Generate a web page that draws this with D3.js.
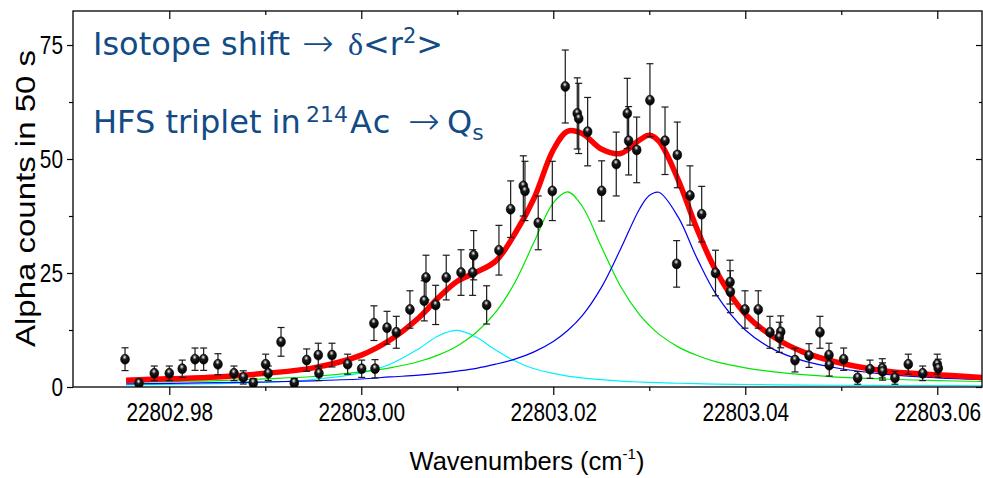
<!DOCTYPE html>
<html>
<head>
<meta charset="utf-8">
<script src="https://cdn.jsdelivr.net/npm/d3@7"></script>
<style>
  body { margin: 0; background: #fff; }
  svg { display: block; }
</style>
</head>
<body>
<svg id="chart"></svg>
<script>
var w = 983;
var h = 478;

// measured points (wavenumber, counts, 1 sigma)
var waveX = [22802.97539, 22802.97684, 22802.97844, 22802.98000, 22802.98135, 22802.98268, 22802.98358,
  22802.98507, 22802.98674, 22802.98771, 22802.98875, 22802.99004, 22802.99031, 22802.99164, 22802.99302,
  22802.99431, 22802.99552, 22802.99559, 22802.99695, 22802.99858, 22803.00004, 22803.00143, 22803.00132,
  22803.00268, 22803.00365, 22803.00507, 22803.00656, 22803.00674, 22803.00775, 22803.00885, 22803.01039,
  22803.01171, 22803.01160, 22803.01306, 22803.01434, 22803.01556, 22803.01688, 22803.01705, 22803.01843,
  22803.01990, 22803.02125, 22803.02250, 22803.02265, 22803.02358, 22803.02504, 22803.02656, 22803.02771,
  22803.02785, 22803.02869, 22803.03007, 22803.03164, 22803.03285, 22803.03292, 22803.03424, 22803.03546,
  22803.03690, 22803.03841, 22803.03845, 22803.03997, 22803.04135, 22803.04257, 22803.04369, 22803.04354,
  22803.04518, 22803.04664, 22803.04778, 22803.04872, 22803.04875, 22803.05025, 22803.05171, 22803.05299,
  22803.05427, 22803.05430, 22803.05559, 22803.05698, 22803.05848, 22803.06000, 22803.06010];
var counts = [6.1, 0.8, 3.0, 3.0, 4.0, 6.1, 6.1,
  5.0, 3.0, 2.1, 0.9, 5.0, 3.0, 9.9, 0.9,
  5.9, 7.0, 3.0, 7.0, 5.0, 4.0, 4.0, 14.0,
  13.0, 12.0, 17.0, 18.9, 24.0, 18.0, 24.0, 25.1,
  28.9, 25.1, 18.0, 30.0, 39.0, 44.1, 43.0, 36.0,
  43.0, 65.9, 60.0, 58.9, 56.0, 43.0, 48.9, 60.0,
  54.0, 52.0, 62.9, 54.0, 27.0, 50.9, 42.0, 37.9,
  25.0, 23.0, 20.9, 17.0, 17.0, 12.0, 12.1, 10.9,
  5.9, 6.9, 12.0, 7.0, 4.8, 6.1, 2.0, 3.9,
  4.1, 3.4, 2.0, 5.0, 3.0, 5.0, 4.1];
var errors = [2.5, 0.9, 1.6, 1.6, 1.9, 2.45, 2.45,
  2.3, 1.6, 1.45, 0.95, 2.2, 1.6, 3.15, 0.95,
  2.45, 2.6, 1.6, 2.6, 2.2, 1.9, 2.0, 3.8,
  3.6, 3.5, 4.1, 4.4, 4.9, 4.3, 4.9, 5.0,
  5.4, 5.0, 4.2, 5.45, 6.2, 6.6, 6.5, 5.9,
  6.5, 8.0, 7.8, 7.7, 7.5, 6.6, 7.0, 7.7,
  7.5, 7.2, 8.0, 7.4, 5.1, 7.2, 6.5, 6.1,
  5.0, 4.8, 4.6, 4.1, 4.1, 3.5, 3.5, 3.3,
  2.6, 2.6, 3.5, 2.6, 2.4, 2.45, 1.4, 2.0,
  2.1, 1.9, 1.4, 2.2, 1.6, 2.2, 2.0];

// fitted curves at these wavenumbers
var fitX = [22802.9755, 22802.980, 22802.985, 22802.990, 22802.995, 22803.000, 22803.003, 22803.006,
  22803.008, 22803.010, 22803.012, 22803.014, 22803.016, 22803.018, 22803.020, 22803.0215,
  22803.023, 22803.025, 22803.027, 22803.029, 22803.030, 22803.031, 22803.033, 22803.035,
  22803.037, 22803.040, 22803.043, 22803.046, 22803.050, 22803.055, 22803.060, 22803.0647];
var fitTotal = [1.5, 1.8, 2.2, 3.0, 4.2, 7.0, 10.3, 15.2,
  19.5, 23.2, 25.2, 27.6, 33.6, 41.4, 52.0, 56.1,
  55.6, 52.2, 51.2, 54.2, 55.2, 53.9, 45.5, 34.5,
  25.3, 16.0, 10.9, 7.7, 5.2, 3.4, 2.7, 2.1];
var fitPeak1 = [0.46, 0.56, 0.73, 1.04, 1.65, 3.1, 5.0, 8.4,
  11.2, 12.4, 10.9, 8.1, 5.7, 4.0, 3.0, 2.4,
  2.0, 1.6, 1.3, 1.1, 1.0, 0.94, 0.82, 0.72,
  0.64, 0.55, 0.48, 0.43, 0.38, 0.33, 0.30, 0.27];
var fitPeak2 = [1.0, 1.2, 1.4, 1.8, 2.3, 3.3, 4.2, 5.6,
  7.0, 9.0, 12.0, 16.4, 22.9, 31.8, 40.4, 42.8,
  39.7, 30.8, 22.1, 15.8, 13.5, 11.6, 8.8, 6.9,
  5.5, 4.2, 3.3, 2.7, 2.1, 1.7, 1.4, 1.2];
var fitPeak3 = [0.7, 0.8, 0.95, 1.1, 1.35, 1.75, 2.2, 2.6,
  3.0, 3.5, 4.1, 5.0, 6.1, 7.7, 10.0, 12.4,
  15.6, 21.8, 30.2, 39.1, 42.0, 42.7, 37.3, 28.1,
  20.2, 12.5, 8.2, 5.8, 4.0, 2.7, 2.0, 1.6];

var xMajor = [22802.98, 22803.00, 22803.02, 22803.04, 22803.06];
var xMinor = [22802.99, 22803.01, 22803.03, 22803.05];
var yMajor = [0, 25, 50, 75];
var yMinor = [12.5, 37.5, 62.5];

var pLeft = 73, pRight = 982, pTop = 11, pBottom = 387;
var textBlue = "#124b86";
var axisFont = "'Liberation Sans', Arial, sans-serif";
var noteFont = "'DejaVu Sans', Verdana, sans-serif";

var svg = d3.select("#chart")
  .attr("width", w)
  .attr("height", h)
  .style("background", "#fff");

var x = d3.scaleLinear()
  .domain([22802.96997, 22803.06466])
  .range([pLeft, pRight]);

var y = d3.scaleLinear()
  .domain([0, 82.46])
  .range([pBottom, pTop]);

var defs = svg.append("defs");
defs.append("clipPath").attr("id", "plotclip")
  .append("rect")
  .attr("x", pLeft).attr("y", pTop)
  .attr("width", pRight - pLeft).attr("height", pBottom - pTop);

var grad = defs.append("radialGradient").attr("id", "ball")
  .attr("cx", "45%").attr("cy", "30%").attr("r", "65%");
grad.append("stop").attr("offset", "0%").attr("stop-color", "#ffffff");
grad.append("stop").attr("offset", "12%").attr("stop-color", "#b0b0b0");
grad.append("stop").attr("offset", "38%").attr("stop-color", "#1c1c1c");
grad.append("stop").attr("offset", "100%").attr("stop-color", "#000000");

// axes
function styleAxis(g) {
  g.select(".domain").remove();
  g.selectAll(".tick line").attr("stroke", "#000").attr("stroke-width", 1.2);
  g.attr("font-family", axisFont).attr("font-size", 26);
}

svg.append("g")
  .attr("transform", "translate(0," + pBottom + ")")
  .call(d3.axisBottom(x).tickValues(xMajor).tickSize(8).tickFormat(function(d) { return d.toFixed(2); }))
  .call(styleAxis)
  .selectAll("text")
  .attr("y", 34.5)
  .attr("dy", 0)
  .attr("fill", "#000")
  .attr("transform", "scale(0.8,1)");

svg.append("g")
  .attr("transform", "translate(0," + pBottom + ")")
  .call(d3.axisBottom(x).tickValues(xMinor).tickSize(4).tickFormat(""))
  .call(styleAxis);

svg.append("g")
  .attr("transform", "translate(0," + pTop + ")")
  .call(d3.axisTop(x).tickValues(xMajor).tickSize(-8).tickFormat(""))
  .call(styleAxis);

svg.append("g")
  .attr("transform", "translate(0," + pTop + ")")
  .call(d3.axisTop(x).tickValues(xMinor).tickSize(-4).tickFormat(""))
  .call(styleAxis);

svg.append("g")
  .attr("transform", "translate(" + pLeft + ",0)")
  .call(d3.axisLeft(y).tickValues(yMajor).tickSize(6).tickFormat(d3.format("d")))
  .call(styleAxis)
  .selectAll("text")
  .attr("x", -12.5)
  .attr("fill", "#000")
  .attr("transform", "scale(0.8,1)");

svg.append("g")
  .attr("transform", "translate(" + pLeft + ",0)")
  .call(d3.axisLeft(y).tickValues(yMinor).tickSize(4).tickFormat(""))
  .call(styleAxis);

svg.append("g")
  .attr("transform", "translate(" + pRight + ",0)")
  .call(d3.axisRight(y).tickValues(yMajor).tickSize(-6).tickFormat(""))
  .call(styleAxis);

svg.append("g")
  .attr("transform", "translate(" + pRight + ",0)")
  .call(d3.axisRight(y).tickValues(yMinor).tickSize(-3).tickFormat(""))
  .call(styleAxis);

// axis titles
svg.append("text")
  .attr("transform", "translate(35,198.5) rotate(-90)")
  .attr("text-anchor", "middle")
  .attr("font-family", axisFont)
  .attr("font-size", 28)
  .attr("textLength", 297)
  .attr("lengthAdjust", "spacingAndGlyphs")
  .text("Alpha counts in 50 s");

var xt = svg.append("text")
  .attr("x", 527)
  .attr("y", 470)
  .attr("text-anchor", "middle")
  .attr("font-family", axisFont)
  .attr("font-size", 25.5);
xt.append("tspan").text("Wavenumbers (cm");
xt.append("tspan").attr("font-size", 15).attr("dy", -11).text("-1");
xt.append("tspan").attr("dy", 11).text(")");

// fitted components
var plot = svg.append("g").attr("clip-path", "url(#plotclip)");

var line = d3.line()
  .x(function(d, i) { return x(fitX[i]); })
  .y(function(d) { return y(d); })
  .curve(d3.curveCatmullRom.alpha(0.5));

plot.append("path").datum(fitPeak1)
  .attr("d", line).attr("fill", "none").attr("stroke", "#00f0ff").attr("stroke-width", 1.2);
plot.append("path").datum(fitPeak2)
  .attr("d", line).attr("fill", "none").attr("stroke", "#00e600").attr("stroke-width", 1.2);
plot.append("path").datum(fitPeak3)
  .attr("d", line).attr("fill", "none").attr("stroke", "#0000f0").attr("stroke-width", 1.2);
plot.append("path").datum(fitTotal)
  .attr("d", line).attr("fill", "none").attr("stroke", "#ff0000").attr("stroke-width", 5.5)
  .attr("stroke-linejoin", "round");

// error bars
var idx = d3.range(waveX.length);
var bars = plot.append("g")
  .attr("stroke", "#1a1a1a")
  .attr("stroke-width", 1.2);

bars.selectAll(".bar")
  .data(idx)
  .enter()
  .append("line")
  .attr("x1", function(i) { return x(waveX[i]); })
  .attr("x2", function(i) { return x(waveX[i]); })
  .attr("y1", function(i) { return y(counts[i] - errors[i]); })
  .attr("y2", function(i) { return y(counts[i] + errors[i]); });

[1, -1].forEach(function(s) {
  bars.selectAll(".cap" + s)
    .data(idx)
    .enter()
    .append("line")
    .attr("x1", function(i) { return x(waveX[i]) - 3.5; })
    .attr("x2", function(i) { return x(waveX[i]) + 3.5; })
    .attr("y1", function(i) { return y(counts[i] + s * errors[i]); })
    .attr("y2", function(i) { return y(counts[i] + s * errors[i]); });
});

// markers
plot.selectAll(".pt")
  .data(idx)
  .enter()
  .append("ellipse")
  .attr("class", "pt")
  .attr("cx", function(i) { return x(waveX[i]); })
  .attr("cy", function(i) { return y(counts[i]); })
  .attr("rx", 4.4)
  .attr("ry", 5)
  .attr("fill", "url(#ball)")
  .attr("stroke", "#000")
  .attr("stroke-width", 0.6);

// frame
svg.append("rect")
  .attr("x", pLeft).attr("y", pTop)
  .attr("width", pRight - pLeft).attr("height", pBottom - pTop)
  .attr("fill", "none").attr("stroke", "#000").attr("stroke-width", 1.3);

// annotations
var a1 = svg.append("text")
  .attr("x", 93).attr("y", 55)
  .attr("font-family", noteFont)
  .attr("font-size", 32)
  .attr("fill", textBlue);
a1.append("tspan").text("Isotope shift");
a1.append("tspan").attr("x", 302).attr("dy", 1).attr("font-size", 38).attr("font-weight", 200).text("\u2192");
a1.append("tspan").attr("x", 348).attr("dy", -1).attr("font-family", "'Liberation Serif', serif").text("\u03b4");
a1.append("tspan").attr("x", 363).text("<r");
a1.append("tspan").attr("font-size", 21).attr("dy", -12).text("2");
a1.append("tspan").attr("dy", 12).text(">");

var a2 = svg.append("text")
  .attr("x", 93).attr("y", 133)
  .attr("font-family", noteFont)
  .attr("font-size", 32)
  .attr("fill", textBlue);
a2.append("tspan").text("HFS triplet in");
a2.append("tspan").attr("x", 306).attr("font-size", 22).attr("dy", -11).text("214");
a2.append("tspan").attr("x", 350).attr("dy", 11).attr("letter-spacing", 1.5).text("Ac");
a2.append("tspan").attr("x", 408).attr("dy", 1).attr("font-size", 38).attr("font-weight", 200).text("\u2192");
a2.append("tspan").attr("x", 447).attr("dy", -1).text("Q");
a2.append("tspan").attr("font-size", 22).attr("dy", 7).text("s");
</script>
</body>
</html>
